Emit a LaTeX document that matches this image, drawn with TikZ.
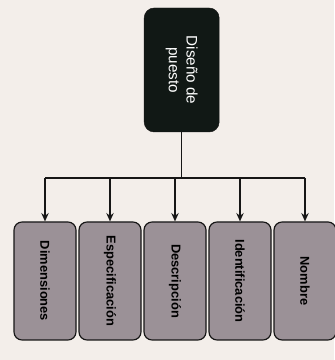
\documentclass[tikz,border=0pt]{standalone}
\usepackage{fontspec}
\setmainfont{Liberation Sans}
\usetikzlibrary{arrows.meta,calc,positioning}
\definecolor{Paper}{HTML}{F3EEEA}
\definecolor{Ink}{HTML}{161616}
\definecolor{Slate}{HTML}{9B9197}
\definecolor{Night}{HTML}{111815}

\begin{document}
\begin{tikzpicture}[
  head/.style={draw=Ink,rounded corners=3mm,fill=Night,text=white,rotate=-90,minimum width=37.2mm,minimum height=22.5mm,align=center,font=\fontsize{13}{15}\selectfont},
  part/.style={draw=Ink,line width=1pt,rounded corners=2.4mm,fill=Slate,rotate=-90,minimum width=35.4mm,minimum height=18.6mm,font=\fontsize{11}{13}\selectfont\bfseries},
  line/.style={line width=1.3pt,color=Ink},
  arr/.style={-{Stealth[length=2.5mm,width=2.2mm]},line width=1.3pt,color=Ink}
]
\fill[Paper] (0,0) rectangle (10.02,10.8);
\useasboundingbox (0,0) rectangle (10.02,10.8);

\node[head] (top) at (5.45,8.7) {Diseño de\\puesto};
\coordinate (bar) at (5.45,5.46);

\foreach \i/\x/\t in {1/1.35/Dimensiones,2/3.3/Especificación,3/5.25/Descripción,4/7.2/Identificación,5/9.15/Nombre}{
  \node[part] (b\i) at (\x,2.37) {\t};
  \draw[arr] (bar -| b\i) -- (b\i);
}
\draw[line] (top) -- (bar);
\draw[line] (b1 |- bar) -- (b5 |- bar);
\end{tikzpicture}
\end{document}
